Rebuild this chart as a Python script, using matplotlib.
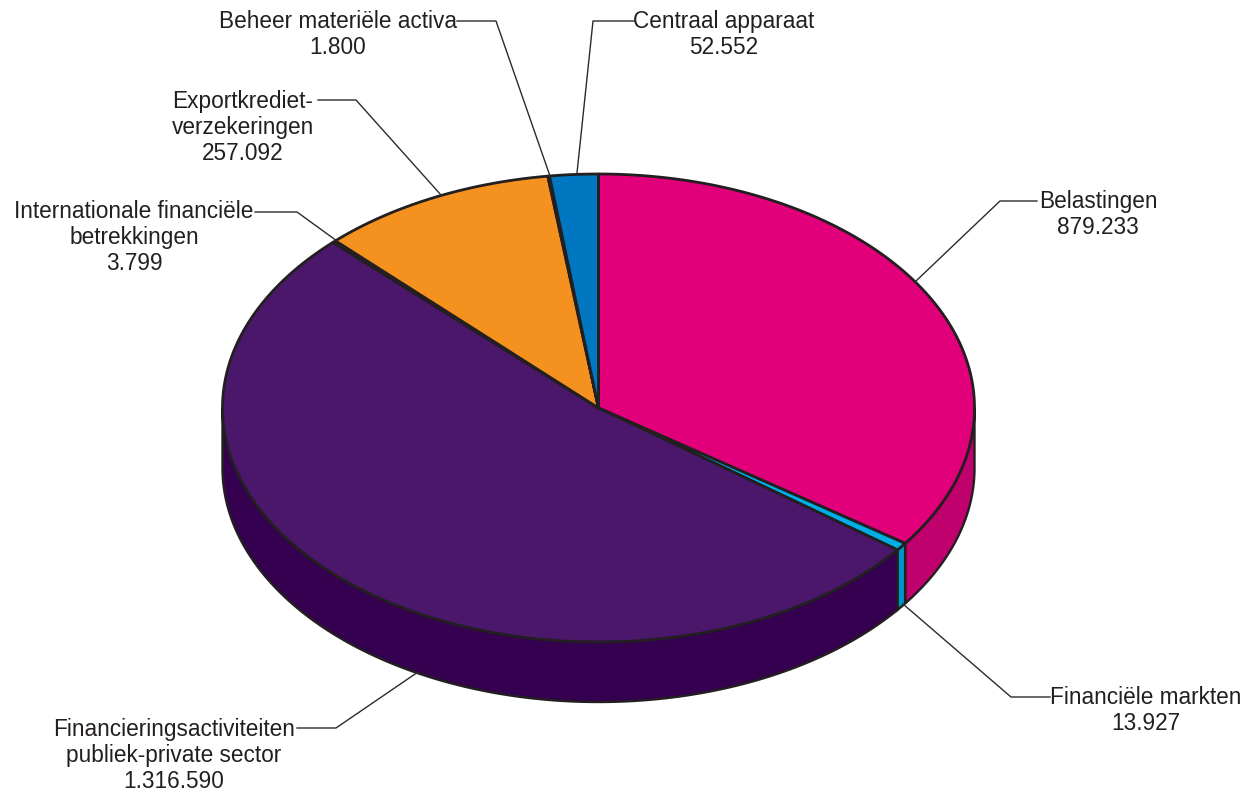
#!/usr/bin/env python3

import numpy as np
import matplotlib
matplotlib.use('Agg')
import matplotlib.pyplot as plt

plt.rcParams['font.family'] = ['Liberation Sans', 'DejaVu Sans']

names = ['Belastingen', 'Financiële markten', 'Financieringsactiviteiten\npubliek-private sector',
         'Internationale financiële\nbetrekkingen', 'Exportkrediet-\nverzekeringen',
         'Beheer materiële activa', 'Centraal apparaat']
amounts = [879233, 13927, 1316590, 3799, 257092, 1800, 52552]
amount_labels = ['879.233', '13.927', '1.316.590', '3.799', '257.092', '1.800', '52.552']
top_colors = ['#e2007a', '#00aee6', '#4a176b', '#2a1a20', '#f5911e', '#2a1a10', '#0077c0']
side_colors = ['#c0006c', '#0095c8', '#35004f', '#35004f', '#c8700c', '#5a2a10', '#005a94']

# label text anchor (x, top y) and leader line, in pixels
label_pos = [(1098, 190), (1146, 686), (174, 718), (134, 200), (243, 90), (338, 10), (724, 10)]
leaders = [
    [(1037, 201), (1000, 201), (916, 281)],
    [(1050, 697), (1011, 697), (903, 604)],
    [(297, 728), (336, 728), (418, 672)],
    [(255, 212), (297, 212), (337, 241)],
    [(318, 100), (356, 100), (441, 195)],
    [(457, 21), (496, 21), (550, 176)],
    [(634, 21), (593, 21), (577, 173)],
]

cx, cy, rx, ry, depth = 598.5, 408, 376, 234, 60
edge = '#231f20'


def rim(t):
    return cx + rx*np.sin(t), cy - ry*np.cos(t)


fig = plt.figure(figsize=(12.58, 7.96), dpi=100)
ax = fig.add_axes([0, 0, 1, 1])
ax.set_xlim(0, 1258)
ax.set_ylim(796, 0)
ax.axis('off')

ends = np.cumsum(amounts)/np.sum(amounts)*2*np.pi
starts = np.r_[0, ends[:-1]]

# side wall first, only the front half of the rim shows
for a, b, c in zip(starts, ends, side_colors):
    lo, hi = max(a, np.pi/2), min(b, 3*np.pi/2)
    if hi <= lo:
        continue
    t = np.linspace(lo, hi, 200)
    x, y = rim(t)
    ax.fill(np.r_[x, x[::-1]], np.r_[y, y[::-1] + depth], facecolor=c, edgecolor=edge, lw=1.7, zorder=2)

# top slices
for a, b, c in zip(starts, ends, top_colors):
    t = np.linspace(a, b, 300)
    x, y = rim(t)
    ax.fill(np.r_[cx, x], np.r_[cy, y], facecolor=c, edgecolor=edge, lw=2.0, joinstyle='round', zorder=3)

for line in leaders:
    xs, ys = zip(*line)
    ax.plot(xs, ys, color='#2b2b2b', lw=1.0, zorder=4)

for (x, y), n, v in zip(label_pos, names, amount_labels):
    ax.text(x, y, n + '\n' + v, ha='center', va='top', fontsize=16.3, color='#231f20', linespacing=1.17, zorder=5)

fig.savefig('out.png', dpi=100)
